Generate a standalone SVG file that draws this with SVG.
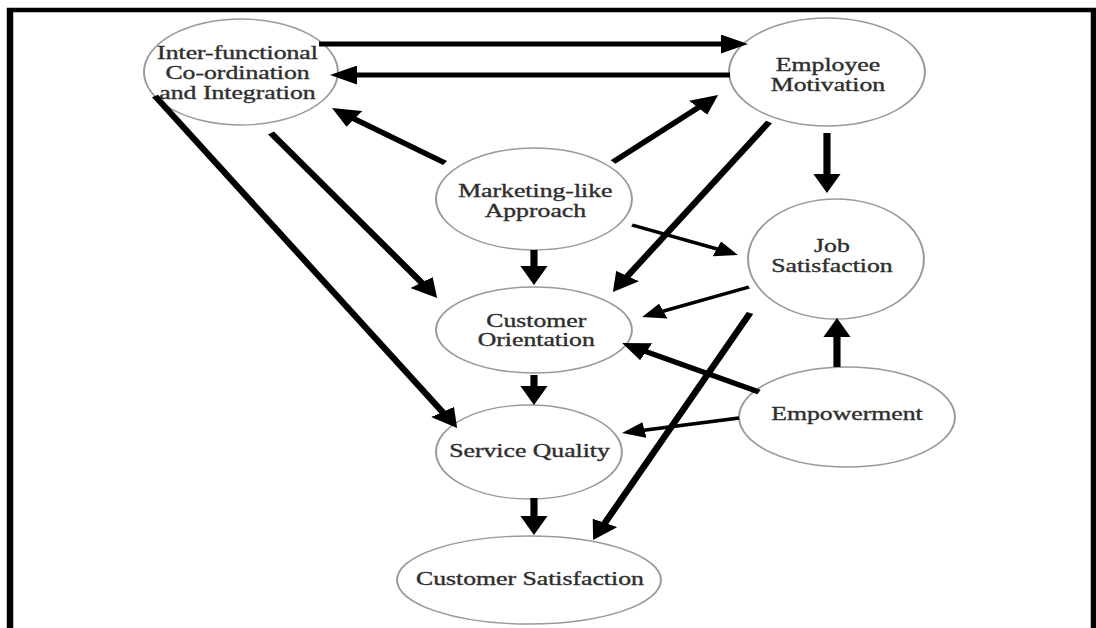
<svg xmlns="http://www.w3.org/2000/svg" width="1096" height="628" viewBox="0 0 1096 628">
<style>
.node ellipse{fill:#fff;stroke:#9a9a9a;stroke-width:1.4}
.node text{font-family:"Liberation Serif","Times New Roman",serif;font-size:18px;fill:#2e2e2e;stroke:#2e2e2e;stroke-width:0.35;text-anchor:middle}
.c line{stroke:#000;stroke-width:5;fill:none;marker-end:url(#ah)}
.c line.t{stroke-width:3.5;marker-end:url(#ahs)}
</style>
<defs>
<marker id="ah" markerUnits="userSpaceOnUse" markerWidth="19" markerHeight="19" refX="7" refY="9.5" orient="auto"><path d="M0,0 L19,9.5 L0,19 z" fill="#000"/></marker>
<marker id="ahs" markerUnits="userSpaceOnUse" markerWidth="16" markerHeight="16" refX="6" refY="8" orient="auto"><path d="M0,0 L16,8 L0,16 z" fill="#000"/></marker>
</defs>
<rect width="1096" height="628" fill="#fff"/>
<g transform="scale(1.43 1)">
<rect x="7" y="10" width="758" height="700" fill="none" stroke="#000" stroke-width="4.5"/>
<g id="n-inter" class="node"><ellipse cx="168.5" cy="72" rx="67.8" ry="53"/><text x="166.1" y="59">Inter-functional</text><text x="166.1" y="79">Co-ordination</text><text x="166.1" y="99">and Integration</text></g>
<g id="n-employee" class="node"><ellipse cx="578.3" cy="72" rx="68.5" ry="54"/><text x="579" y="71">Employee</text><text x="579" y="91">Motivation</text></g>
<g id="n-marketing" class="node"><ellipse cx="373.4" cy="199" rx="68.5" ry="51"/><text x="374.4" y="197">Marketing-like</text><text x="374.4" y="217">Approach</text></g>
<g id="n-custorient" class="node"><ellipse cx="373.4" cy="330" rx="68.5" ry="43"/><text x="375" y="327">Customer</text><text x="375" y="346">Orientation</text></g>
<g id="n-service" class="node"><ellipse cx="369.9" cy="452" rx="65" ry="47"/><text x="370.3" y="457">Service Quality</text></g>
<g id="n-custsat" class="node"><ellipse cx="369.9" cy="580" rx="92.3" ry="44"/><text x="370.6" y="585">Customer Satisfaction</text></g>
<g id="n-jobsat" class="node"><ellipse cx="584.6" cy="259" rx="61.5" ry="60"/><text x="581.8" y="252">Job</text><text x="581.8" y="272">Satisfaction</text></g>
<g id="n-empower" class="node"><ellipse cx="592.3" cy="417" rx="75.5" ry="50"/><text x="592.3" y="420">Empowerment</text></g>
<g id="connectors" class="c">
<line x1="223.1" y1="44" x2="511.1" y2="44"/>
<line x1="510.5" y1="75" x2="242.8" y2="75"/>
<line x1="311.2" y1="163" x2="242" y2="114.9"/>
<line x1="428.7" y1="162" x2="493.3" y2="103"/>
<line x1="189.5" y1="133" x2="298.8" y2="288.2"/>
<line x1="108.4" y1="96" x2="313.2" y2="417.9"/>
<line x1="537.8" y1="122" x2="435.1" y2="281.9"/>
<line x1="578.3" y1="133" x2="578.3" y2="181"/>
<line class="t" x1="442" y1="225" x2="506.8" y2="251.2"/>
<line x1="373.4" y1="250" x2="373.4" y2="273"/>
<line class="t" x1="523.8" y1="287" x2="458.3" y2="313.3"/>
<line x1="524.5" y1="313" x2="420" y2="529.2"/>
<line x1="530.8" y1="392" x2="445.7" y2="348.5"/>
<line x1="585.3" y1="367" x2="585.3" y2="330"/>
<line class="t" x1="516.8" y1="418" x2="444.8" y2="431.2"/>
<line x1="373.4" y1="375" x2="373.4" y2="393"/>
<line x1="373.4" y1="498" x2="373.4" y2="523"/>
</g>
</g>
</svg>
